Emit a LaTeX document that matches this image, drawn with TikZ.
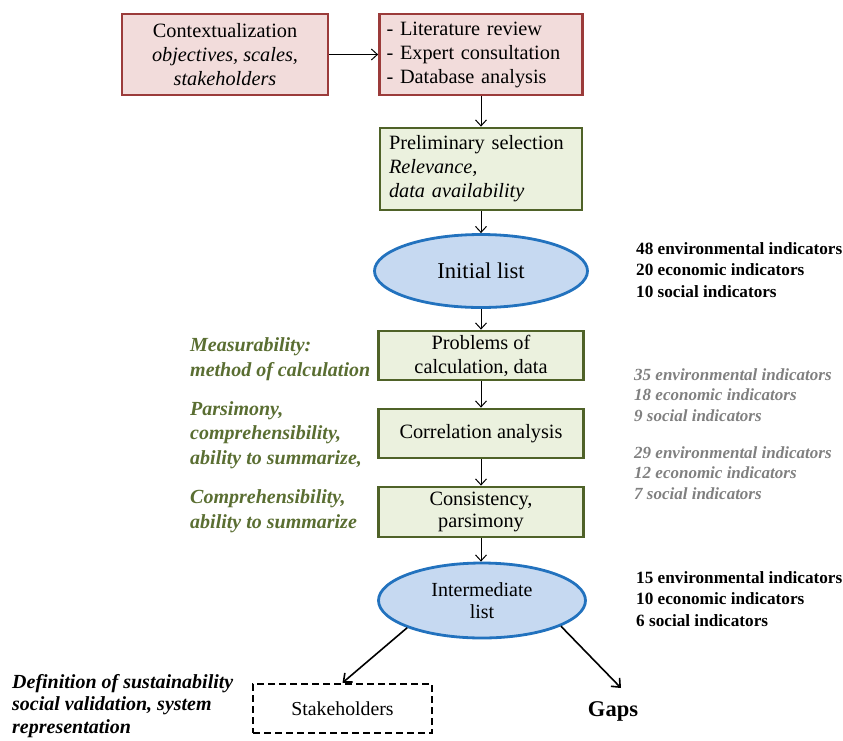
\documentclass[tikz,border=0pt]{standalone}
\usepackage{fontspec}
\setmainfont{Liberation Serif}
\usetikzlibrary{shapes.geometric,arrows.meta}
\definecolor{redb}{HTML}{9B3B3A}
\definecolor{redf}{HTML}{F2DCDB}
\definecolor{grnb}{HTML}{4F6228}
\definecolor{grnf}{HTML}{EBF1DE}
\definecolor{blub}{HTML}{2272BE}
\definecolor{bluf}{HTML}{C6D9F1}
\definecolor{grntxt}{HTML}{5A6E32}
\definecolor{graytxt}{HTML}{808080}
\begin{document}
\begin{tikzpicture}[x=1pt,y=-1pt,
  redbox/.style={draw=redb,fill=redf,line width=2.8pt,inner sep=0pt,font=\fontsize{20.3}{24}\selectfont},
  grnbox/.style={draw=grnb,fill=grnf,line width=2.8pt,inner sep=0pt,font=\fontsize{20.3}{24}\selectfont},
  oval/.style={ellipse,draw=blub,fill=bluf,line width=2.8pt,inner sep=0pt},
  arr/.style={-{Straight Barb[length=6pt,width=11pt]},line width=1pt},
  arrb/.style={-{Straight Barb[length=7pt,width=12pt]},line width=1.6pt},
  boldlbl/.style={font=\fontsize{17.2}{21.2}\selectfont\bfseries,align=left,anchor=west,inner sep=0pt},
  graylbl/.style={font=\fontsize{17}{20.7}\selectfont\bfseries\itshape,text=graytxt,align=left,anchor=west,inner sep=0pt},
  grnlbl/.style={font=\fontsize{20}{24.5}\selectfont\bfseries\itshape,text=grntxt,align=left,anchor=west,inner sep=0pt}
]
\useasboundingbox (0,0) rectangle (843,740);

\node[redbox,minimum width=206pt,minimum height=81pt,align=center] (b1) at (225,54.5)
  {Contextualization\\\textit{objectives, scales,}\\\textit{stakeholders}};
\node[redbox,minimum width=203pt,minimum height=81pt,text width=189pt,inner xsep=7pt,align=left] (b2) at (481,54.5)
  {- Literature review\\- Expert consultation\\- Database analysis};
\node[grnbox,minimum width=202pt,minimum height=82pt,text width=184pt,inner xsep=9pt,align=left] (b3) at (481,169)
  {Preliminary selection\\\textit{Relevance,}\\\textit{data availability}};
\node[oval,minimum width=213pt,minimum height=73pt,font=\fontsize{22.6}{26}\selectfont] (e1) at (481,271) {Initial list};
\node[grnbox,minimum width=205pt,minimum height=49pt,align=center] (b4) at (481,355.5)
  {Problems of\\calculation, data};
\node[grnbox,minimum width=205pt,minimum height=49pt,align=center] (b5) at (481,433.5)
  {Correlation analysis};
\node[grnbox,minimum width=205pt,minimum height=50pt,align=center,font=\fontsize{20.3}{22}\selectfont] (b6) at (481,512)
  {Consistency,\\parsimony};
\node[oval,minimum width=207pt,minimum height=75pt,align=center,font=\fontsize{20}{22}\selectfont] (e2) at (482,600.5)
  {Intermediate\\list};
\node[draw,dash pattern=on 7pt off 4pt,line width=2.4pt,minimum width=179pt,minimum height=49pt,inner sep=0pt,font=\fontsize{19.8}{22}\selectfont] (st) at (342.5,708.5) {Stakeholders};
\node[font=\fontsize{22.5}{26}\selectfont\bfseries,inner sep=0pt] (gaps) at (613,711) {Gaps};
\coordinate (gapin) at (621,688);

\draw[arr] (b1.east) -- (b2.west);
\draw[arr] (b2.south) -- (b3.north);
\draw[arr] (b3.south) -- (e1.north);
\draw[arr] (e1.south) -- (b4.north);
\draw[arr] (b4.south) -- (b5.north);
\draw[arr] (b5.south) -- (b6.north);
\draw[arr] (b6.south) -- (b6.south |- e2.north);
\draw[arrb] (e2.200) -- (st.north);
\draw[arrb] (e2.-18) -- (gapin);

\node[boldlbl] (r1) at (636,270) {48 environmental indicators\\20 economic indicators\\10 social indicators};
\node[graylbl] (g1) at (634,395) {35 environmental indicators\\18 economic indicators\\9 social indicators};
\node[graylbl] (g2) at (634,473) {29 environmental indicators\\12 economic indicators\\7 social indicators};
\node[boldlbl] (r2) at (636,599) {15 environmental indicators\\10 economic indicators\\6 social indicators};

\node[grnlbl] (l1) at (190,359) {Measurability:\\method of calculation};
\node[grnlbl] (l2) at (190,435) {Parsimony,\\comprehensibility,\\ability to summarize,};
\node[grnlbl] (l3) at (190,511) {Comprehensibility,\\ability to summarize};
\node[font=\fontsize{20}{22.5}\selectfont\bfseries\itshape,align=left,anchor=west,inner sep=0pt] (l4) at (12,706)
  {Definition of sustainability\\social validation, system\\representation};
\end{tikzpicture}
\end{document}
